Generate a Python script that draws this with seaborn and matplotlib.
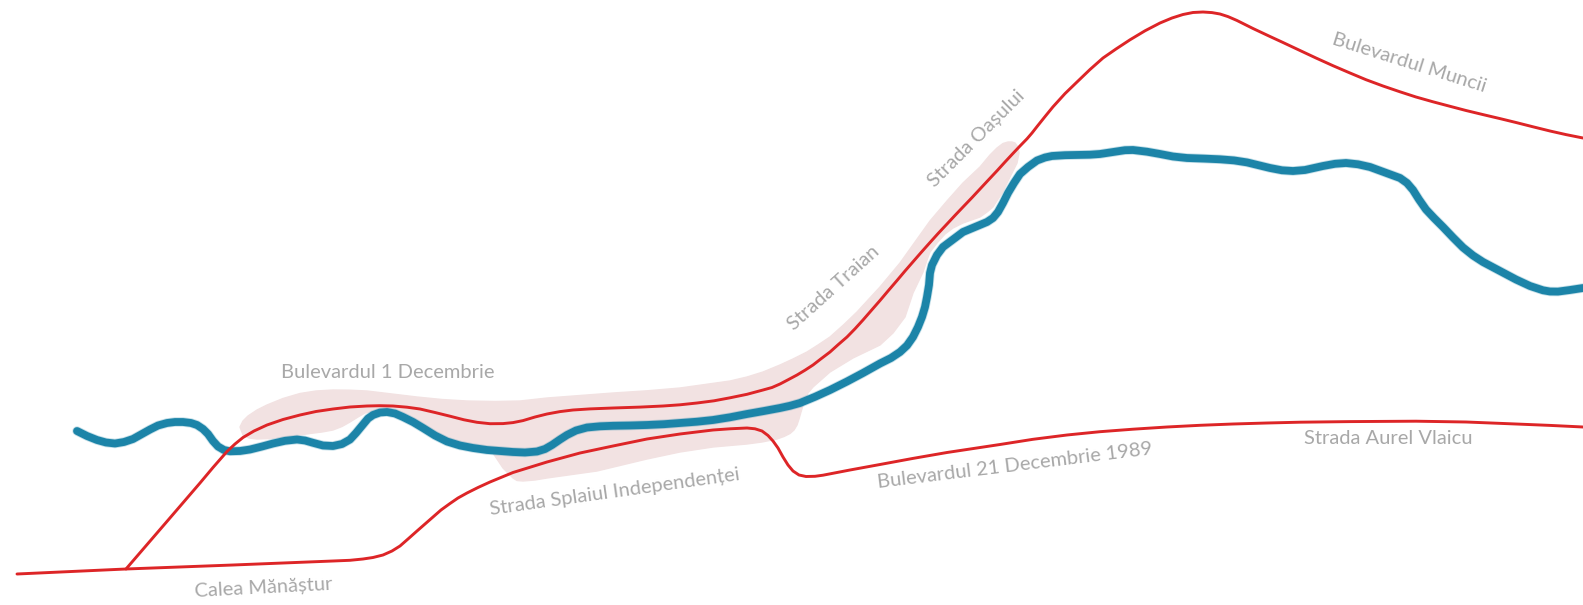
import matplotlib
matplotlib.use("Agg")
import matplotlib.pyplot as plt
import seaborn as sns

sns.set_theme(style="white")
plt.rcParams["font.family"] = ["Lato", "DejaVu Sans"]

# all values, in picture pixels (y goes down)
river_x = [77, 87, 97, 106, 115, 124, 133, 142, 150, 158, 167, 175, 183, 191, 197, 203, 208, 213, 218, 224,
           230, 240, 250, 262, 273, 285, 297, 305, 313, 323, 333, 342, 350, 356, 363, 368, 373, 380, 387, 395,
           403, 413, 423, 435, 447, 460, 473, 487, 500, 513, 525, 537, 545, 552, 560, 567, 576, 587, 600, 613,
           630, 647, 664, 680, 697, 713, 730, 747, 764, 780, 790, 800, 815, 830, 847, 863, 880, 891, 900, 907,
           913, 918, 922, 925, 927, 929, 930, 932, 937, 943, 951, 963, 975, 987, 993, 998, 1003, 1008, 1014,
           1020, 1028, 1037, 1045, 1052, 1065, 1077, 1090, 1100, 1116, 1125, 1133, 1147, 1160, 1173, 1187,
           1204, 1220, 1234, 1247, 1259, 1270, 1282, 1293, 1305, 1315, 1323, 1335, 1346, 1358, 1370, 1385,
           1400, 1407, 1413, 1419, 1426, 1434, 1443, 1453, 1463, 1473, 1483, 1500, 1516, 1530, 1543, 1550,
           1558, 1570, 1583]
river_y = [431, 436, 440, 442.5, 443.5, 442, 439, 434, 429.5, 425.5, 423, 422, 422, 423, 425, 429, 434, 441, 446.5, 450,
           451.3, 451, 449.5, 446.5, 443.5, 440.8, 439.5, 440.5, 442.8, 445.5, 446, 444, 439.5, 433, 424.5, 418.5, 415, 412.5, 412, 413.5,
           417, 422, 428, 435.5, 441.5, 445.5, 448, 450, 451, 452, 452.5, 451.5, 449, 445, 439.5, 435, 430.5, 427.5, 426.3, 425.8,
           425.5, 425, 424.2, 423, 421.7, 420, 417.3, 414, 411, 408, 405.8, 403, 396.8, 390, 381.5, 373, 363.5, 358, 352, 345.5,
           337, 327, 317, 307, 297, 285, 273, 265, 255, 247, 241, 232, 227, 222, 218, 212, 203, 193, 183,
           174, 167, 160.5, 157.5, 156, 155.2, 155, 154.7, 154, 151.5, 150.2, 150, 151.7, 154, 156.5, 158,
           158.6, 159.3, 160.4, 162.4, 165.3, 168, 170.3, 171, 170, 167.8, 166, 163.8, 163, 164.3, 167, 172.5,
           178, 183, 190, 199.5, 209.5, 218, 227, 237.5, 247.5, 255.5, 262, 271, 279.5, 286, 290.3, 291.5,
           291.6, 290, 288]

south_road_x = [17, 126, 233, 333, 350, 363, 373, 383, 392, 400, 408, 417, 425, 433, 441, 450, 458, 467, 478, 490,
                513, 547, 580, 613, 647, 680, 713, 730, 747, 755, 762, 768, 773, 778, 783, 788, 793, 799, 806, 815,
                823, 850, 880, 913, 947, 1000, 1033, 1067, 1100, 1133, 1167, 1200, 1233, 1267, 1300, 1350, 1416, 1466,
                1516, 1550, 1583]
south_road_y = [574, 569, 565, 561, 560.3, 559, 557.5, 555, 551, 546, 539, 531, 524, 517, 510, 503.5, 498, 493, 487.5, 482,
                472.5, 462, 453, 446, 439, 434, 430, 428.8, 428, 428.8, 431, 435.5, 441, 448, 457, 465, 471, 475, 476.5, 476.3,
                475.2, 470, 464.5, 458.4, 452.5, 444.5, 439.3, 435, 431.7, 429.2, 427, 425.3, 424, 423, 422.2, 421.6, 421.2, 422,
                424, 425.4, 427]

north_road_x = [126, 167, 200, 213, 227, 235, 243, 254, 267, 283, 300, 316, 333, 350, 367, 380, 393, 407, 420, 435,
                450, 464, 477, 490, 503, 513, 523, 535, 547, 560, 573, 590, 613, 640, 663, 680, 697, 714, 730, 747,
                763, 772, 780, 788, 797, 805, 813, 821, 830, 838, 847, 855, 863, 871, 880, 888, 897, 905, 913, 921,
                930, 938, 947, 955, 963, 972, 980, 988, 997, 1005, 1013, 1020, 1027, 1032, 1037, 1045, 1053, 1065, 1077,
                1090, 1103, 1116, 1130, 1145, 1160, 1172, 1183, 1193, 1203, 1212, 1220, 1228, 1237, 1253, 1270,
                1283, 1300, 1316, 1333, 1350, 1366, 1383, 1400, 1416, 1433, 1450, 1466, 1483, 1500, 1516, 1533, 1550, 1566, 1583]
north_road_y = [569, 521.4, 483, 467.5, 451.5, 444, 437.5, 431, 425, 419.5, 415, 411.5, 409, 407, 406, 405.7, 406, 407.2, 409, 412.5,
                416.2, 419.8, 422.3, 423.7, 423.6, 422.6, 420.6, 417, 414, 411.6, 410, 408.9, 408, 407.1, 406, 404.8, 403, 400.8, 397.8, 394.3,
                390, 387.5, 384, 379.8, 375, 370.2, 365, 358.8, 352, 344.8, 337, 328.8, 320, 310.8, 300.5, 291, 280.5, 271, 261.8, 252.6,
                242.5, 233.6, 224, 215.4, 207, 197.6, 189, 180.4, 170.8, 162, 153.4, 146, 138.8, 133, 126.6, 116.6, 106.8, 93.6, 82,
                69.5, 58, 49, 39.8, 30.8, 23, 18, 14.5, 12.5, 12, 12.6, 14, 16.6, 20.5, 28.5, 36.5,
                42.5, 50.5, 58, 65.7, 73, 79.7, 86, 91.8, 97, 101.8, 106.3, 110.5, 114.6, 118.6, 122.5, 126.8, 131, 134.6, 138]

# pink area round the riverside roads
area_x = [240, 243, 248, 257, 267, 283, 300, 316, 333, 350, 367, 392, 417, 442, 467, 495, 520, 547, 580, 613, 647, 680,
          705, 730, 747, 763, 780, 793, 807, 818, 830, 844, 857, 868, 880, 890, 900, 910, 920, 930, 947, 963, 980, 990, 997, 1003, 1008, 1012, 1015, 1018, 1019,
          1018, 1017, 1010, 1002, 993, 987, 980, 963, 953, 945, 937, 930, 927, 923, 913, 905, 893, 880, 853, 830,
          813, 808, 804, 801, 799, 797, 794, 790, 784, 777, 762, 747, 713, 680, 647, 597, 547, 535, 523, 517, 513, 508, 503, 493, 470, 440, 420, 400,
          385, 372, 365, 358, 350, 342, 333, 322, 310, 296, 283, 270, 257, 249, 243]
area_y = [427, 421, 416, 410, 405, 398.5, 393.5, 391, 390, 390.2, 391, 394, 397, 399.5, 401, 401.5, 401, 398, 395.5, 393, 390.8, 388,
          384.5, 381, 377, 372, 365, 359, 352, 345, 337, 324.5, 312, 300, 287, 275, 263, 249, 235, 221, 201, 183, 167, 155, 148, 143.5, 142, 142, 143, 147, 153,
          158, 163, 177, 193, 207, 212, 217, 223, 228, 234, 243, 252, 260, 272, 293, 317, 333, 345, 358, 372,
          387, 393, 402, 412, 419, 425, 430, 433.5, 436.5, 439, 442, 444, 447, 452, 459, 471, 478, 480, 481, 480.5, 478, 473, 468, 453, 447, 435, 425, 416,
          411, 411, 413, 417, 422, 426.5, 430, 432, 433.5, 435.5, 437, 438.5, 439, 438, 435]

labels = ["Bulevardul 1 Decembrie", "Calea Mănăștur", "Strada Splaiul Independenței",
          "Bulevardul 21 Decembrie 1989", "Strada Aurel Vlaicu", "Bulevardul Muncii",
          "Strada Traian", "Strada Oașului"]
label_x = [388, 264, 615, 1015, 1388, 1409, 834, 976]
label_y = [372, 588, 492, 466, 438, 63, 288, 139]
label_rot = [0, 3, 8, 7, 0, -17.5, 42, 45]

fig, ax = plt.subplots(figsize=(15.83, 6.05), dpi=100)
fig.subplots_adjust(left=0, right=1, top=1, bottom=0)

ax.fill(area_x, area_y, color="#f2e2e2", linewidth=1, joinstyle="round", zorder=1)

# faint halo then the river itself
sns.lineplot(x=river_x, y=river_y, sort=False, estimator=None, color="#1c84a8", alpha=0.25,
             linewidth=6.8, solid_joinstyle="round", ax=ax, zorder=2)
sns.lineplot(x=river_x, y=river_y, sort=False, estimator=None, color="#1c84a8",
             linewidth=5.6, solid_joinstyle="round", ax=ax, zorder=3)

for xs, ys in [(south_road_x, south_road_y), (north_road_x, north_road_y)]:
    sns.lineplot(x=xs, y=ys, sort=False, estimator=None, color="#dd2527",
                 linewidth=2.1, solid_joinstyle="round", ax=ax, zorder=4)

for name, lx, ly, rot in zip(labels, label_x, label_y, label_rot):
    ax.text(lx, ly, name, color="#a8a8a8", fontsize=14.5, rotation=rot, rotation_mode="anchor",
            ha="center", va="center", zorder=5)

ax.set_xlim(0, 1583)
ax.set_ylim(605, 0)
ax.axis("off")

fig.savefig("out.png", dpi=100)
